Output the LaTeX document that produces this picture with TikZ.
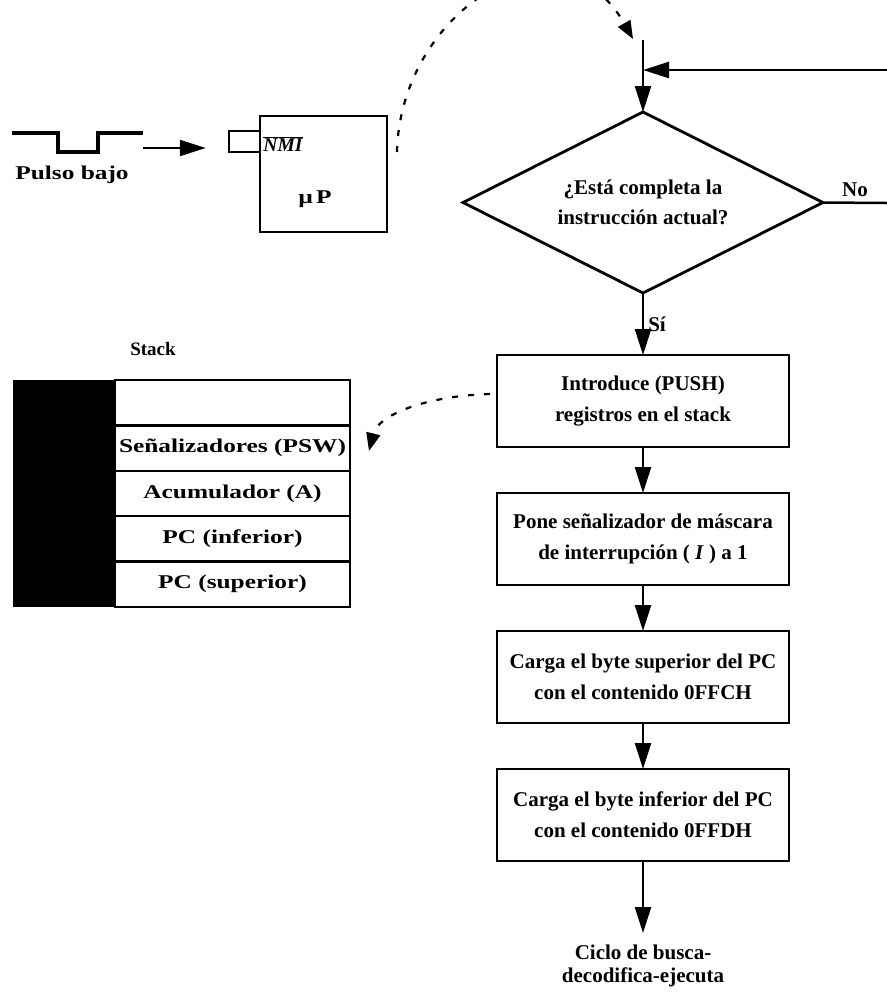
\documentclass[tikz,border=0pt]{standalone}
\usepackage{fontspec}
\setmainfont{Liberation Serif}
\newfontfamily\widefont[FakeStretch=1.3]{Liberation Serif}
\usetikzlibrary{positioning,arrows.meta,shapes.geometric}
\tikzset{
  pbox/.style={rectangle, draw, line width=2.8pt, align=center, outer sep=0pt,
               minimum width=292pt, minimum height=92pt, inner sep=2pt,
               font=\fontsize{21}{31}\selectfont\bfseries},
  decis/.style={diamond, draw, line width=2.8pt, align=center, shape aspect=2,
                minimum width=360pt, minimum height=181pt, inner sep=0pt, outer sep=0pt,
                font=\fontsize{21}{30}\selectfont\bfseries},
  stkcell/.style={rectangle, draw, line width=2.4pt, minimum width=235pt,
                  minimum height=45.4pt, inner sep=0pt, outer sep=0pt,
                  font=\widefont\fontsize{19.5}{23}\selectfont\bfseries},
  lbl/.style={inner sep=0pt, align=center, font=\fontsize{21}{23}\selectfont\bfseries},
  widelbl/.style={inner sep=0pt, font=\widefont\fontsize{19.5}{23}\selectfont\bfseries},
  ar/.style={-{Triangle[length=26pt, width=16pt]}, line width=2.5pt},
  dashar/.style={-{Triangle[length=18pt, width=14pt]}, line width=2.2pt,
                 dash pattern=on 6pt off 10pt},
}
\begin{document}
\begin{tikzpicture}[x=1pt, y=-1pt]
  \useasboundingbox (0,0) rectangle (887,997);
  % flowchart
  \node[decis] (q) at (643,202.5) {¿Está completa la\\instrucción actual?};
  \node[pbox, below=62pt of q] (push) {Introduce (PUSH)\\registros en el stack};
  \node[pbox, below=46pt of push] (mask) {Pone señalizador de máscara\\de interrupción ( \textit{I} ) a 1};
  \node[pbox, below=46pt of mask] (pchi) {Carga el byte superior del PC\\con el contenido 0FFCH};
  \node[pbox, below=46pt of pchi] (pclo) {Carga el byte inferior del PC\\con el contenido 0FFDH};
  \node[lbl, below=84pt of pclo] (ciclo) {Ciclo de busca-\\decodifica-ejecuta};
  \coordinate (start) at (643,40);
  \coordinate (join) at (643,70);
  \coordinate (retR) at (887,70);
  \coordinate (noR) at (887,203);
  \draw[ar] (start) -- (q.north);
  \draw[ar] (retR) -- (join);
  \draw[line width=2.5pt] (q.east) -- (noR) node[midway, above=5pt, lbl] {No};
  \draw[ar] (q.south) -- (push.north) node[midway, right=4pt, lbl] {Sí};
  \draw[ar] (push) -- (mask);
  \draw[ar] (mask) -- (pchi);
  \draw[ar] (pchi) -- (pclo);
  \draw[ar, shorten >=12pt] (pclo) -- (ciclo);
  % pulse and microprocessor
  \draw[line width=4pt] (12,133) -- (58,133) -- (58,152) -- (98,152) -- (98,133) -- (143,133);
  \node[widelbl] (pulso) at (72,175) {Pulso bajo};
  \node[draw, line width=2.5pt, minimum width=31pt, minimum height=21pt, inner sep=0pt] (nmi) at (244.5,141.5) {};
  \node[draw, line width=2.8pt, minimum width=127pt, minimum height=116pt] (up) at (323.5,174) {};
  \node[inner sep=0pt, font=\fontsize{19.5}{23}\selectfont\bfseries\itshape] (nmitxt) at (283,144)
       {$\overline{\hbox{NMI}}$};
  \node[widelbl] (mup) at (315,199) {µ\,P};
  \coordinate (pulsend) at (143,148);
  \draw[ar, shorten >=22pt] (pulsend) -- (pulsend -| nmi.west);
  % stack
  \node[fill=black, minimum width=102pt, minimum height=227pt, inner sep=0pt] (blk) at (64,493.5) {};
  \node[stkcell, anchor=north west] (s0) at (115,380) {};
  \node[stkcell, below=0pt of s0] (s1) {Señalizadores (PSW)};
  \node[stkcell, below=0pt of s1] (s2) {Acumulador (A)};
  \node[stkcell, below=0pt of s2] (s3) {PC (inferior)};
  \node[stkcell, below=0pt of s3] (s4) {PC (superior)};
  \node[lbl, font=\fontsize{19}{23}\selectfont\bfseries] (stk) at (153,349) {Stack};
  % dashed links
  \coordinate (dsA) at (397,152);
  \coordinate (dsEnd) at (633,39);
  \coordinate (dsB) at (490,394);
  \coordinate (dsC) at (369,451);
  \draw[dashar] (dsA) .. controls (400,10) and (560,-90) .. (dsEnd);
  \draw[dashar] (dsB) .. controls (425,396) and (378,415) .. (dsC);
\end{tikzpicture}
\end{document}
